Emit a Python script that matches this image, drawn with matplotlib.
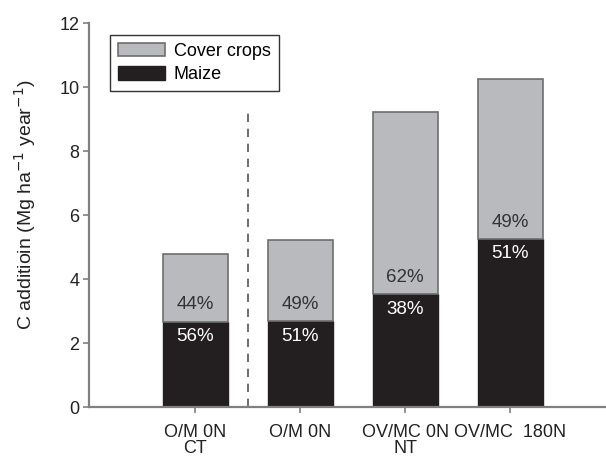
import matplotlib
matplotlib.use("Agg")
import matplotlib.pyplot as plt
import numpy as np

plt.rcParams['font.family'] = ['Liberation Sans', 'DejaVu Sans']

categories = ["O/M 0N\nCT", "O/M 0N", "OV/MC 0N\nNT", "OV/MC  180N"]
maize = [2.67, 2.68, 3.52, 5.26]
total = [4.78, 5.22, 9.22, 10.25]
cover = [t - m for t, m in zip(total, maize)]
cover_pct = ["44%", "49%", "62%", "49%"]
maize_pct = ["56%", "51%", "38%", "51%"]
yticks = [0, 2, 4, 6, 8, 10, 12]

gray = "#b9babd"
black = "#231f20"
edge = "#6e6e6e"
spine = "#808080"

fig = plt.figure(figsize=(6.06, 4.59), dpi=100)
ax = fig.add_axes([89/606, 1-407/459, 1-89/606, (407-23)/459])

x = np.arange(len(categories))
w = 0.62
ax.bar(x, maize, w, color=black, edgecolor=black, linewidth=1, label="Maize", zorder=2)
ax.bar(x, cover, w, bottom=maize, color=gray, edgecolor=edge, linewidth=1.2, label="Cover crops", zorder=2)

for i in range(len(x)):
    ax.text(x[i], maize[i] + 0.52, cover_pct[i], ha="center", va="center", fontsize=13.5, color="#333333", zorder=3)
    ax.text(x[i], maize[i] - 0.47, maize_pct[i], ha="center", va="center", fontsize=13.5, color="white", zorder=3)

ax.plot([0.5, 0.5], [0, 9.3], linestyle=(0, (5, 4)), color="#555555", linewidth=1.2, zorder=1)

ax.set_xlim(-1.01, 3.91)
ax.set_ylim(0, 12)
ax.set_yticks(yticks)
ax.set_yticklabels([str(v) for v in yticks], fontsize=13, color="#222222")
ax.set_xticks(x)
ax.set_xticklabels(categories, fontsize=13, color="#222222", linespacing=0.95)
ax.set_ylabel("C additioin (Mg ha$^{-1}$ year$^{-1}$)", fontsize=14, color="#222222")
ax.yaxis.set_label_coords(-0.099, 0.526)

for s in ["top", "right"]:
    ax.spines[s].set_visible(False)
for s in ["left", "bottom"]:
    ax.spines[s].set_color(spine)
    ax.spines[s].set_linewidth(1.6)
ax.tick_params(axis="y", direction="out", length=4, width=1.2, color=spine, pad=3)
ax.tick_params(axis="x", direction="out", length=4, width=1.2, color=spine, pad=8)

handles, labels = ax.get_legend_handles_labels()
leg = ax.legend(handles[::-1], labels[::-1], loc="upper left", bbox_to_anchor=(0.04, 0.97),
                fontsize=13, frameon=True, fancybox=False, edgecolor="black",
                handlelength=2.6, handleheight=0.8, borderpad=0.45, labelspacing=0.35,
                handletextpad=0.5, borderaxespad=0)
leg.get_frame().set_linewidth(1.0)

fig.savefig("out.png", dpi=100)
